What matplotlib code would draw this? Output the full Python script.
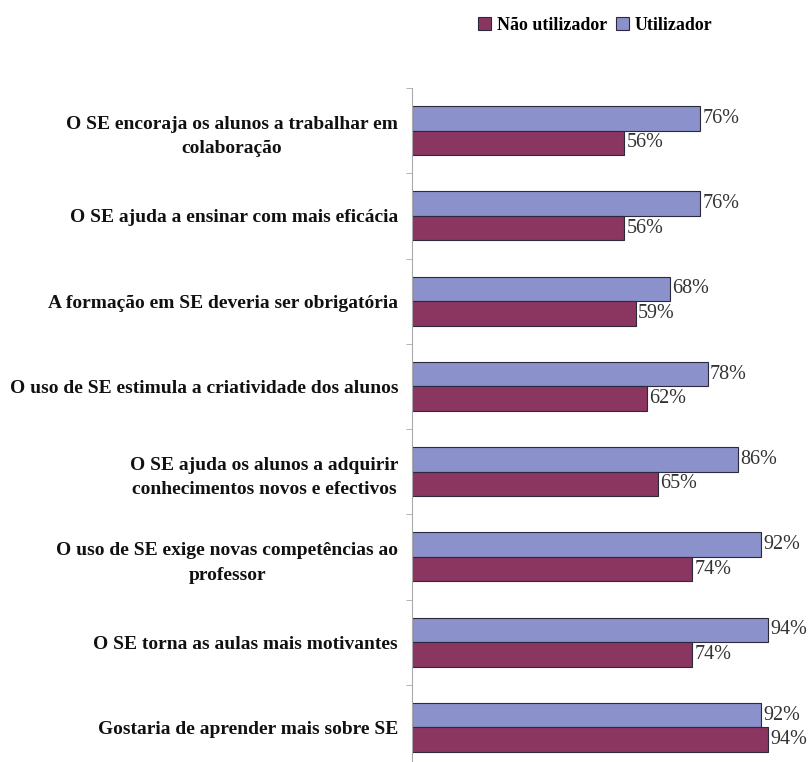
import matplotlib
matplotlib.use("Agg")
import matplotlib.pyplot as plt
import numpy as np

categories = [
    "O SE encoraja os alunos a trabalhar em\ncolaboração",
    "O SE ajuda a ensinar com mais eficácia",
    "A formação em SE deveria ser obrigatória",
    "O uso de SE estimula a criatividade dos alunos",
    "O SE ajuda os alunos a adquirir\nconhecimentos novos e efectivos",
    "O uso de SE exige novas competências ao\nprofessor",
    "O SE torna as aulas mais motivantes",
    "Gostaria de aprender mais sobre SE",
]
utilizador = [76, 76, 68, 78, 86, 92, 94, 92]
nao_utilizador = [56, 56, 59, 62, 65, 74, 74, 94]

blue = "#8a91cb"
maroon = "#8b3561"
serif = ["Liberation Serif", "DejaVu Serif"]

fig = plt.figure(figsize=(8.12, 7.62), dpi=100)
ax = fig.add_axes([0.5074, -0.0105, 0.4667, 0.895])

y = np.arange(len(categories))
h = 0.287
b1 = ax.barh(y - h / 2, utilizador, height=h, color=blue, edgecolor="#2a2a3a",
             linewidth=0.8, label="Utilizador")
b2 = ax.barh(y + h / 2, nao_utilizador, height=h, color=maroon, edgecolor="#2a2a3a",
             linewidth=0.8, label="Não utilizador")

# percentage labels just right of each bar
for bars, vals in ((b1, utilizador), (b2, nao_utilizador)):
    for bar, v in zip(bars, vals):
        ax.text(bar.get_width() + 0.6, bar.get_y() + bar.get_height() / 2, f"{v}%",
                ha="left", va="center", fontsize=14.5, family=serif, color="#333333")

ax.set_xlim(0, 100)
ax.set_ylim(len(categories) - 0.5, -0.5)
ax.set_yticks(y)
ax.set_yticklabels(categories, family=serif, fontweight="bold", fontsize=14,
                   multialignment="center", linespacing=1.6, color="#111111")
ax.set_yticks(np.arange(len(categories) + 1) - 0.5, minor=True)
ax.tick_params(axis="y", which="major", length=0, pad=10)
ax.tick_params(axis="y", which="minor", length=4, color="#aaaaaa")
ax.set_xticks([])
for side in ("top", "right", "bottom"):
    ax.spines[side].set_visible(False)
ax.spines["left"].set_color("#aaaaaa")

handles = [b2, b1]
fig.legend(handles, [hd.get_label() for hd in handles], loc="center",
           bbox_to_anchor=(0.733, 0.967), ncol=2, frameon=False,
           handlelength=0.75, handleheight=0.75, handletextpad=0.3, columnspacing=0.5,
           prop={"family": serif, "weight": "bold", "size": 12.9})

fig.savefig("out.png", dpi=100)
